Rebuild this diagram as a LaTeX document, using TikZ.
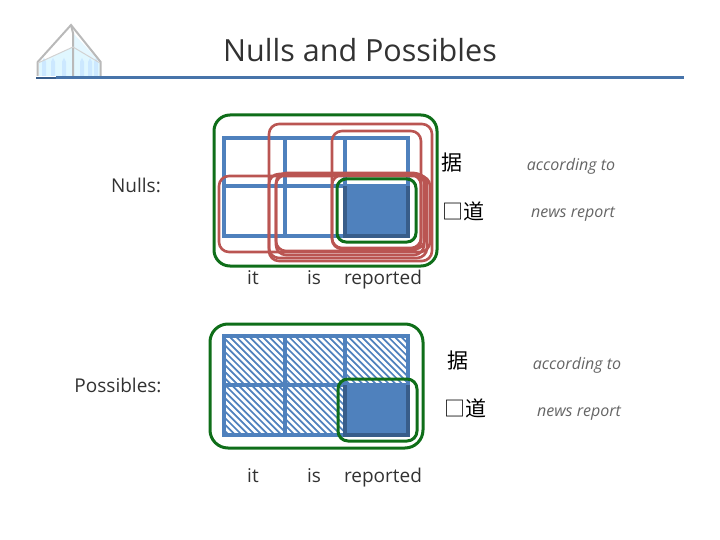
\documentclass[tikz,border=0pt]{standalone}
\usepackage{fontspec}
\setmainfont{Open Sans}
\newfontfamily\cjkfont{Noto Sans CJK SC}
\usetikzlibrary{arrows.meta}
\definecolor{gridblue}{RGB}{79,129,189}
\definecolor{darkblue}{RGB}{56,93,138}
\definecolor{redline}{RGB}{192,80,77}
\definecolor{greenline}{RGB}{15,110,25}
\definecolor{textgrey}{RGB}{50,50,50}
\tikzset{
  gridline/.style={draw=gridblue,line width=3.2pt},
  redbox/.style={draw=redline!90!gray,line width=2.6pt,rounded corners=10pt},
  greenbox/.style={draw=greenline,line width=3pt,rounded corners=12pt},
  wordlabel/.style={text=textgrey,font=\fontsize{19}{22}\selectfont},
  rowlabel/.style={wordlabel,anchor=base},
  cjklabel/.style={text=black,font=\cjkfont\fontsize{21}{24}\selectfont},
  glosslabel/.style={text=textgrey!75,anchor=base,font=\itshape\fontsize{16}{18}\selectfont}
}
\begin{document}
\begin{tikzpicture}[x=1pt,y=-1pt]
  \useasboundingbox (0,0) rectangle (720,540);

  % logo
  \fill[blue!25!cyan!12] (39,63) -- (73,47) -- (100,63) -- (100,76) -- (39,76) -- cycle;
  \fill[blue!30!cyan!10] (73,33) -- (100,62) -- (73,47) -- cycle;
  \foreach \x in {44,53,64,82,90,96}
    \fill[blue!45!cyan!20] (\x-2,76) -- (\x-2,62) -- (\x,58) -- (\x+2,62) -- (\x+2,76) -- cycle;
  \draw[gray!55,line width=2pt] (37.7,76) -- (37.7,62) -- (71,25) -- (100.7,62) -- (100.7,76);
  \draw[gray!55,line width=2pt] (71,25) -- (73,33) -- (73,76);
  \draw[gray!35,line width=1pt] (38,63) -- (73,47) -- (100,63);

  % title
  \draw[darkblue,line width=1.5pt] (36,78) -- (56,78);
  \draw[gridblue!90!black,line width=3pt] (56,78) -- (684,78);
  \node[text=textgrey,font=\fontsize{30.5}{36}\selectfont] (title) at (360,50) {Nulls and Possibles};

  % nulls
  \node[wordlabel] (nulls) at (136,185) {Nulls:};
  \fill[gridblue] (345,186) rectangle (408,236);
  \draw[gridline] (224,138) rectangle (408,236);
  \draw[gridline] (224,186) -- (408,186);
  \draw[gridline] (285,138) -- (285,236);
  \draw[gridline] (345,138) -- (345,236);
  \draw[darkblue,line width=3.2pt] (345,186) -- (345,236) -- (408,236) -- (408,186);

  \draw[redbox] (219,176) rectangle (430,252);
  \draw[redbox] (269,124) rectangle (432,261);
  \draw[redbox] (332,131) rectangle (421,248);
  \draw[redbox] (269,174) rectangle (427,258);
  \draw[redbox] (276,173) rectangle (424,255);
  \draw[redbox] (276,175) rectangle (421,251);
  \draw[redbox] (332,175) rectangle (425,249);
  \draw[greenbox,rounded corners=16pt] (214,115) rectangle (437,266);
  \draw[greenbox,rounded corners=9pt] (337,179) rectangle (416,242);

  \node[cjklabel] (cjktopa) at (452,163) {据};
  \node[cjklabel] (cjkbota) at (463,211) {□道};
  \node[glosslabel] (glosstopa) at (571,171) {according to};
  \node[glosslabel] (glossbota) at (573,218) {news report};
  \node[rowlabel] (ita) at (253,284) {it};
  \node[rowlabel] (isa) at (314,284) {is};
  \node[rowlabel] (repa) at (383,284) {reported};

  % possibles
  \node[wordlabel] (poss) at (118,385) {Possibles:};
  \begin{scope}
    \clip (224,336) rectangle (408,435);
    \foreach \i in {0,...,50}
      \draw[gridblue,line width=1.7pt] (100+\i*6.6,326) -- (220+\i*6.6,446);
  \end{scope}
  \fill[gridblue] (345,385) rectangle (408,435);
  \draw[gridline] (224,336) rectangle (408,435);
  \draw[gridline] (224,385) -- (408,385);
  \draw[gridline] (285,336) -- (285,435);
  \draw[gridline] (345,336) -- (345,435);
  \draw[darkblue,line width=3.2pt] (345,385) -- (345,435) -- (408,435) -- (408,385);

  \draw[greenbox,rounded corners=18pt] (210,324) rectangle (423,448);
  \draw[greenbox,rounded corners=10pt] (338,379) rectangle (417,441);

  \node[cjklabel] (cjktopb) at (458,361) {据};
  \node[cjklabel] (cjkbotb) at (465,408) {□道};
  \node[glosslabel] (glosstopb) at (577,369) {according to};
  \node[glosslabel] (glossbotb) at (579,416) {news report};
  \node[rowlabel] (itb) at (253,482) {it};
  \node[rowlabel] (isb) at (314,482) {is};
  \node[rowlabel] (repb) at (383,482) {reported};
\end{tikzpicture}
\end{document}
